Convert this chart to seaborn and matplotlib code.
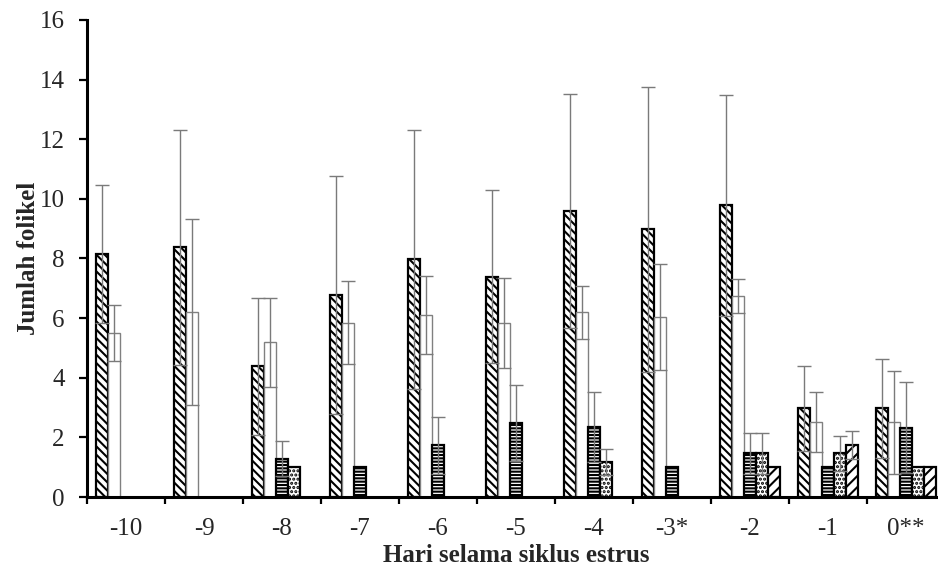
import numpy as np
import pandas as pd
import matplotlib
matplotlib.use("Agg")
import matplotlib.pyplot as plt
from matplotlib.container import BarContainer
import seaborn as sns

nan = np.nan
categories = ['-10', '-9', '-8', '-7', '-6', '-5', '-4', '-3*', '-2', '-1', '0**']
series = ['Kelas 1', 'Kelas 2', 'Kelas 3', 'Kelas 4', 'Kelas 5']

s1 = [8.15, 8.37, 4.39, 6.78, 7.97, 7.39, 9.59, 8.98, 9.78, 2.97, 2.97]
e1 = [2.30, 3.95, 2.30, 4.00, 4.35, 2.90, 3.93, 4.78, 3.70, 1.42, 1.65]
s2 = [5.50, 6.19, 5.19, 5.85, 6.10, 5.83, 6.19, 6.04, 6.74, 2.52, 2.50]
e2 = [0.95, 3.12, 1.50, 1.40, 1.30, 1.50, 0.90, 1.79, 0.57, 1.00, 1.73]
s3 = [nan, nan, 1.29, 1.00, 1.73, 2.48, 2.35, 1.00, 1.46, 1.00, 2.32]
e3 = [nan, nan, 0.58, nan, 0.96, 1.28, 1.18, nan, 0.69, nan, 1.53]
s4 = [nan, nan, 1.00, nan, nan, nan, 1.18, nan, 1.46, 1.46, 1.00]
e4 = [nan, nan, nan, nan, nan, nan, 0.44, nan, 0.69, 0.58, nan]
s5 = [nan, nan, nan, nan, nan, nan, nan, nan, 1.00, 1.75, 1.00]
e5 = [nan, nan, nan, nan, nan, nan, nan, nan, nan, 0.47, nan]

values = [s1, s2, s3, s4, s5]
errors = [e1, e2, e3, e4, e5]

rows = []
for name, vals, errs in zip(series, values, errors):
    for c, v, e in zip(categories, vals, errs):
        if not np.isnan(v):
            rows.append({'Hari': c, 'series': name, 'value': v, 'err': e})
df = pd.DataFrame(rows)

sns.set_style("white")
plt.rcParams['font.family'] = ['Liberation Serif', 'DejaVu Serif']
plt.rcParams['hatch.linewidth'] = 1.5

fig = plt.figure(figsize=(9.38, 5.70), dpi=100)
ax = fig.add_axes([87 / 938, (570 - 497) / 570, (945 - 87) / 938, (497 - 20) / 570])

sns.barplot(data=df, x='Hari', y='value', hue='series', order=categories,
            hue_order=series, dodge=True, width=0.775, errorbar=None,
            palette=['white'] * 5, legend=False, ax=ax, zorder=2)

styles = [
    dict(hatch='\\\\\\\\', edgecolor='black', lw=1.6),
    dict(hatch=None, edgecolor='#808080', lw=1.0),
    dict(hatch='-----', edgecolor='black', lw=1.6),
    dict(hatch='....', edgecolor='black', lw=1.6),
    dict(hatch='///', edgecolor='black', lw=1.6),
]

bar_conts = [c for c in ax.containers if isinstance(c, BarContainer)]
for k, cont in enumerate(bar_conts):
    st = styles[k]
    sub = df[df['series'] == series[k]].copy()
    sub['pos'] = sub['Hari'].map({c: i for i, c in enumerate(categories)})
    sub = sub.sort_values('pos')
    for patch, (_, r) in zip(cont.patches, sub.iterrows()):
        patch.set_facecolor('white')
        patch.set_edgecolor(st['edgecolor'])
        patch.set_linewidth(st['lw'])
        if st['hatch']:
            patch.set_hatch(st['hatch'])
        if not np.isnan(r['err']):
            xc = patch.get_x() + patch.get_width() / 2
            ax.errorbar(xc, patch.get_height(), yerr=r['err'], fmt='none',
                        ecolor='#7a7a7a', elinewidth=1.0, capsize=5,
                        capthick=1.0, zorder=3)

ax.set_ylim(0, 16)
ax.set_xlim(-0.5, 10.5)
ax.set_yticks(np.arange(0, 17, 2))
ax.set_yticklabels([str(v) for v in range(0, 17, 2)])

ax.set_xticks(np.arange(-0.5, 10.6, 1.0))
ax.set_xticklabels([])
ax.set_xticks(np.arange(0, 11), minor=True)
ax.set_xticklabels(categories, minor=True)
ax.tick_params(axis='x', which='major', direction='out', length=5, width=1.6,
               color='black', bottom=True)
ax.tick_params(axis='x', which='minor', length=0, pad=15, labelsize=18)
ax.tick_params(axis='y', direction='out', length=6, width=1.6, color='black',
               pad=10, labelsize=18, left=True)

for side in ['top', 'right']:
    ax.spines[side].set_visible(False)
for side in ['left', 'bottom']:
    ax.spines[side].set_linewidth(2.2)
    ax.spines[side].set_color('black')

ax.set_xlabel('Hari selama siklus estrus', fontsize=18, fontweight='bold', va='center')
ax.xaxis.set_label_coords(0.5, (497 - 556) / 477)
ax.set_ylabel('Jumlah folikel', fontsize=18, fontweight='bold', va='center')
ax.yaxis.set_label_coords((28 - 87) / 858, 0.5)
ax.grid(False)

fig.savefig('out.png', dpi=100)
